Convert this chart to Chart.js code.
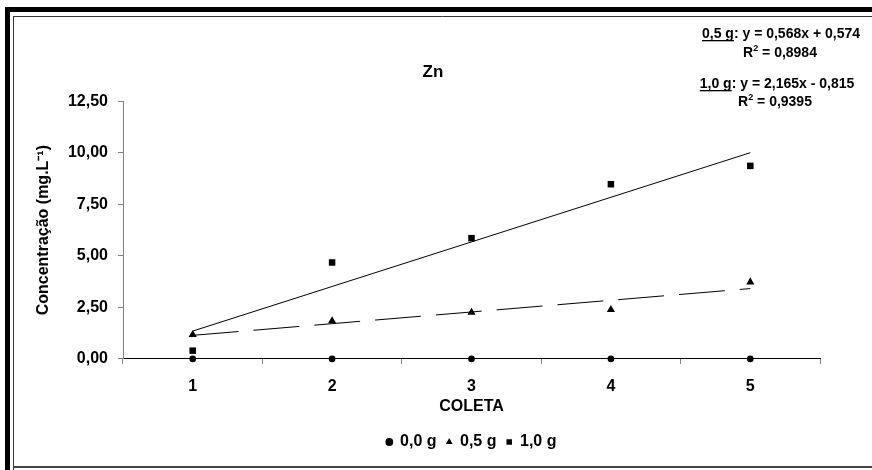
<!DOCTYPE html>
<html>
<head>
<meta charset="utf-8">
<script src="https://cdn.jsdelivr.net/npm/chart.js@4.4.1/dist/chart.umd.min.js"></script>
<style>
  html, body { margin: 0; padding: 0; background: #fff; }
  #wrap { width: 872px; height: 470px; }
</style>
</head>
<body>
<div id="wrap"><canvas id="znChart" width="872" height="470"></canvas></div>
<script>
const coletas = ["1", "2", "3", "4", "5"];
const dose00 = [0, 0, 0, 0, 0];
const dose05 = [1.18, 1.84, 2.26, 2.39, 3.73];
const dose10 = [0.40, 4.68, 5.86, 8.48, 9.37];
const yTicks = [0, 2.5, 5, 7.5, 10, 12.5];

// linear fits: slope, intercept, R2
const fit05 = [0.568, 0.574, 0.8984];
const fit10 = [2.165, -0.815, 0.9395];

const trend05 = coletas.map((c, i) => fit05[0] * (i + 1) + fit05[1]);
const trend10 = coletas.map((c, i) => fit10[0] * (i + 1) + fit10[1]);

const FONT = "'Liberation Sans', Arial, sans-serif";
const comma = (v, d) => Math.abs(v).toFixed(d).replace(".", ",");

Chart.defaults.font.family = FONT;
Chart.defaults.font.weight = "bold";
Chart.defaults.font.size = 16;
Chart.defaults.color = "#000";

// double frame around the whole chart
const framePlugin = {
  id: "frame",
  beforeDraw(chart) {
    const c = chart.ctx;
    c.save();
    c.fillStyle = "#fff";
    c.fillRect(0, 0, chart.width, chart.height);
    c.fillStyle = "#000";
    c.fillRect(5, 7, 5, chart.height - 7);
    c.fillRect(5, 7, chart.width - 5, 5);
    c.strokeStyle = "#333";
    c.lineWidth = 1;
    c.beginPath();
    c.moveTo(13.5, 16);
    c.lineTo(13.5, chart.height);
    c.moveTo(13, 16.5);
    c.lineTo(chart.width, 16.5);
    c.stroke();
    c.strokeStyle = "#444";
    c.lineWidth = 2;
    c.beginPath();
    c.moveTo(13, 467);
    c.lineTo(chart.width, 467);
    c.stroke();
    c.restore();
  }
};

// trend line equations in the upper right corner
function drawEquation(c, cx, base, dose, fit) {
  const rest = ": y = " + comma(fit[0], 3) + "x " + (fit[1] < 0 ? "- " : "+ ") + comma(fit[1], 3);
  c.font = "bold 14px " + FONT;
  const w1 = c.measureText(dose).width;
  const w2 = c.measureText(rest).width;
  let x = cx - (w1 + w2) / 2;
  c.fillText(dose, x, base);
  c.fillRect(x, base + 2, w1, 1.3);
  c.fillText(rest, x + w1, base);
}

function drawR2(c, cx, base, r2) {
  const tail = " = " + comma(r2, 4);
  c.font = "bold 14px " + FONT;
  const wr = c.measureText("R").width;
  const wt = c.measureText(tail).width;
  c.font = "bold 9px " + FONT;
  const ws = c.measureText("2").width;
  let x = cx - (wr + ws + wt) / 2;
  c.font = "bold 14px " + FONT;
  c.fillText("R", x, base);
  c.font = "bold 9px " + FONT;
  c.fillText("2", x + wr, base - 6);
  c.font = "bold 14px " + FONT;
  c.fillText(tail, x + wr + ws, base);
}

const equationPlugin = {
  id: "equations",
  afterDraw(chart) {
    const c = chart.ctx;
    c.save();
    c.fillStyle = "#000";
    c.textBaseline = "alphabetic";
    drawEquation(c, 781, 38, "0,5 g", fit05);
    drawR2(c, 780, 57, fit05[2]);
    drawEquation(c, 777, 88, "1,0 g", fit10);
    drawR2(c, 775, 106, fit10[2]);
    c.restore();
  }
};

const marker = { showLine: false, backgroundColor: "#000", borderColor: "#000", borderWidth: 0, clip: false };

new Chart(document.getElementById("znChart"), {
  type: "line",
  data: {
    labels: coletas,
    datasets: [
      { ...marker, label: "0,0 g", data: dose00, pointStyle: "circle", pointRadius: 3.3 },
      { ...marker, label: "0,5 g", data: dose05, pointStyle: "triangle", pointRadius: 4.7 },
      { ...marker, label: "1,0 g", data: dose10, pointStyle: "rect", pointRadius: 4.6 },
      { label: "Linear (0,5 g)", data: trend05, borderColor: "#000", borderWidth: 1, borderDash: [46, 15], pointRadius: 0, fill: false },
      { label: "Linear (1,0 g)", data: trend10, borderColor: "#000", borderWidth: 1, pointRadius: 0, fill: false }
    ]
  },
  options: {
    responsive: false,
    animation: false,
    events: [],
    layout: { padding: { left: 46, right: 52, top: 20, bottom: 10 } },
    plugins: {
      title: {
        display: true,
        text: "Zn",
        font: { size: 17 },
        padding: { top: 42, bottom: 19 }
      },
      legend: {
        position: "bottom",
        fullSize: false,
        labels: {
          usePointStyle: true,
          boxWidth: 5.5,
          boxHeight: 5.5,
          padding: 10,
          filter: item => item.datasetIndex < 3
        }
      },
      tooltip: { enabled: false }
    },
    scales: {
      x: {
        offset: true,
        grid: { offset: true, drawOnChartArea: false, tickLength: 5, color: "#808080" },
        border: { color: "#000" },
        ticks: { padding: 13.4 },
        title: { display: true, text: "COLETA", padding: { top: -12.6, bottom: 7.5 } }
      },
      y: {
        min: 0,
        max: 12.5,
        afterBuildTicks: scale => { scale.ticks = yTicks.map(v => ({ value: v })); },
        afterFit: scale => { scale.width = 77; },
        grid: { drawOnChartArea: false, tickLength: 5, color: "#808080" },
        border: { color: "#808080" },
        ticks: { padding: 10, callback: v => comma(v, 2) },
        title: { display: true, text: "Concentração (mg.L⁻¹)", padding: { top: -12, bottom: 0 } }
      }
    }
  },
  plugins: [framePlugin, equationPlugin]
});
</script>
</body>
</html>
